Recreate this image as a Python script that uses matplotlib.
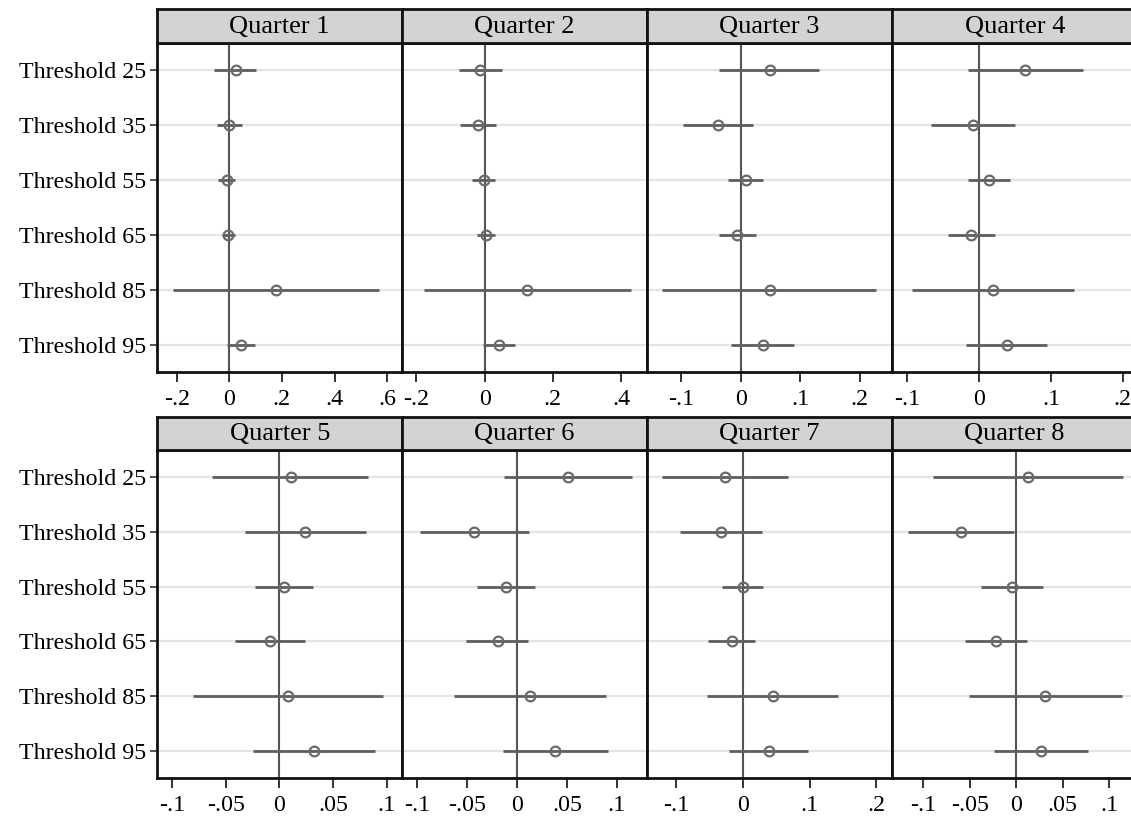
import numpy as np
import matplotlib
matplotlib.use("Agg")
import matplotlib.pyplot as plt

##------------- data -------------
thresholds = ["Threshold 25", "Threshold 35", "Threshold 55",
              "Threshold 65", "Threshold 85", "Threshold 95"]
quarters = ["Quarter 1", "Quarter 2", "Quarter 3", "Quarter 4",
            "Quarter 5", "Quarter 6", "Quarter 7", "Quarter 8"]

# point estimates, one list per quarter (order = thresholds)
est_q1 = [0.024, 0.000, -0.010, -0.004, 0.178, 0.044]
est_q2 = [-0.013, -0.020, -0.003, 0.005, 0.125, 0.041]
est_q3 = [0.049, -0.038, 0.008, -0.006, 0.049, 0.038]
est_q4 = [0.064, -0.009, 0.014, -0.011, 0.019, 0.039]
est_q5 = [0.0106, 0.024, 0.0044, -0.0087, 0.0084, 0.0324]
est_q6 = [0.051, -0.0425, -0.0107, -0.0194, 0.0134, 0.0384]
est_q7 = [-0.026, -0.0324, 0.000, -0.016, 0.045, 0.040]
est_q8 = [0.0122, -0.0595, -0.0047, -0.0215, 0.0312, 0.0265]

# lower confidence bounds
lo_q1 = [-0.058, -0.048, -0.042, -0.029, -0.215, -0.008]
lo_q2 = [-0.075, -0.073, -0.036, -0.021, -0.178, -0.005]
lo_q3 = [-0.037, -0.097, -0.021, -0.037, -0.132, -0.016]
lo_q4 = [-0.015, -0.067, -0.015, -0.044, -0.094, -0.018]
lo_q5 = [-0.0626, -0.032, -0.0227, -0.0414, -0.0804, -0.0243]
lo_q6 = [-0.0127, -0.097, -0.0395, -0.0508, -0.0629, -0.0144]
lo_q7 = [-0.121, -0.0933, -0.0314, -0.0513, -0.053, -0.020]
lo_q8 = [-0.0896, -0.1165, -0.0376, -0.0548, -0.0505, -0.0244]

# upper confidence bounds
hi_q1 = [0.100, 0.049, 0.022, 0.022, 0.570, 0.098]
hi_q2 = [0.051, 0.034, 0.031, 0.031, 0.430, 0.088]
hi_q3 = [0.132, 0.020, 0.037, 0.025, 0.228, 0.089]
hi_q4 = [0.144, 0.050, 0.043, 0.022, 0.132, 0.094]
hi_q5 = [0.0826, 0.0807, 0.0312, 0.024, 0.0963, 0.0888]
hi_q6 = [0.115, 0.0117, 0.0184, 0.011, 0.0893, 0.0909]
hi_q7 = [0.0674, 0.0285, 0.031, 0.0186, 0.143, 0.0973]
hi_q8 = [0.1143, -0.0029, 0.0283, 0.0115, 0.1136, 0.0771]

# axis settings per panel
xticks_q = [[-.2, 0, .2, .4, .6], [-.2, 0, .2, .4], [-.1, 0, .1, .2], [-.1, 0, .1, .2],
            [-.1, -.05, 0, .05, .1], [-.1, -.05, 0, .05, .1], [-.1, 0, .1, .2],
            [-.1, -.05, 0, .05, .1]]
xticklabels_q = [["-.2", "0", ".2", ".4", ".6"], ["-.2", "0", ".2", ".4"],
                 ["-.1", "0", ".1", ".2"], ["-.1", "0", ".1", ".2"],
                 ["-.1", "-.05", "0", ".05", ".1"], ["-.1", "-.05", "0", ".05", ".1"],
                 ["-.1", "0", ".1", ".2"], ["-.1", "-.05", "0", ".05", ".1"]]
xlims_q = [(-0.274, 0.657), (-0.242, 0.475), (-0.158, 0.254), (-0.121, 0.220),
           (-0.114, 0.1144), (-0.115, 0.130), (-0.143, 0.223), (-0.1333, 0.130)]

est = [est_q1, est_q2, est_q3, est_q4, est_q5, est_q6, est_q7, est_q8]
lo = [lo_q1, lo_q2, lo_q3, lo_q4, lo_q5, lo_q6, lo_q7, lo_q8]
hi = [hi_q1, hi_q2, hi_q3, hi_q4, hi_q5, hi_q6, hi_q7, hi_q8]
####------------------------------------------------

plt.rcParams['font.family'] = ['Liberation Serif', 'DejaVu Serif']

W, H = 1131, 821
fig = plt.figure(figsize=(W / 100, H / 100), dpi=100)
fig.patch.set_facecolor("white")

lefts = [157.3, 402.0, 647.0, 892.3]
pw = 244.8
rows = [(43, 372, 9), (450, 778, 417)]   # plot top, plot bottom, strip top

ypos = np.arange(len(thresholds))
line_col = "#5e5e5e"

for i in range(8):
    r, c = divmod(i, 4)
    top, bot, stop = rows[r]
    ax = fig.add_axes([lefts[c] / W, 1 - bot / H, pw / W, (bot - top) / H])

    # light horizontal grid and zero line
    for y in ypos:
        ax.axhline(y, color="#e4e4e4", lw=1.6, zorder=1)
    ax.axvline(0, color="#555555", lw=1.5, zorder=2)

    ax.hlines(ypos, lo[i], hi[i], color=line_col, lw=2.0, zorder=3)
    ax.plot(est[i], ypos, "o", ms=7, mfc="none", mec="#6a6a6a", mew=1.6, zorder=4)

    ax.set_ylim(len(thresholds) - 0.5, -0.5)
    ax.set_xlim(*xlims_q[i])
    ax.set_xticks(xticks_q[i])
    ax.set_xticklabels(xticklabels_q[i], fontsize=17.2)
    ax.tick_params(axis="x", length=7, width=1.4, color="#333333", pad=5)
    if c == 0:
        ax.set_yticks(ypos)
        ax.set_yticklabels(thresholds, fontsize=17.3)
        ax.tick_params(axis="y", length=5, width=1.2, color="#333333", pad=3)
    else:
        ax.set_yticks([])
    for s in ax.spines.values():
        s.set_linewidth(2.0)
        s.set_color("#111111")

    # strip title
    sax = fig.add_axes([lefts[c] / W, 1 - top / H, pw / W, (top - stop) / H])
    sax.set_facecolor("#d3d3d3")
    sax.set_xticks([])
    sax.set_yticks([])
    for s in sax.spines.values():
        s.set_linewidth(2.0)
        s.set_color("#111111")
    sax.text(0.5, 0.47, quarters[i], ha="center", va="center", fontsize=19,
             transform=sax.transAxes)

fig.savefig("out.png", dpi=100)
